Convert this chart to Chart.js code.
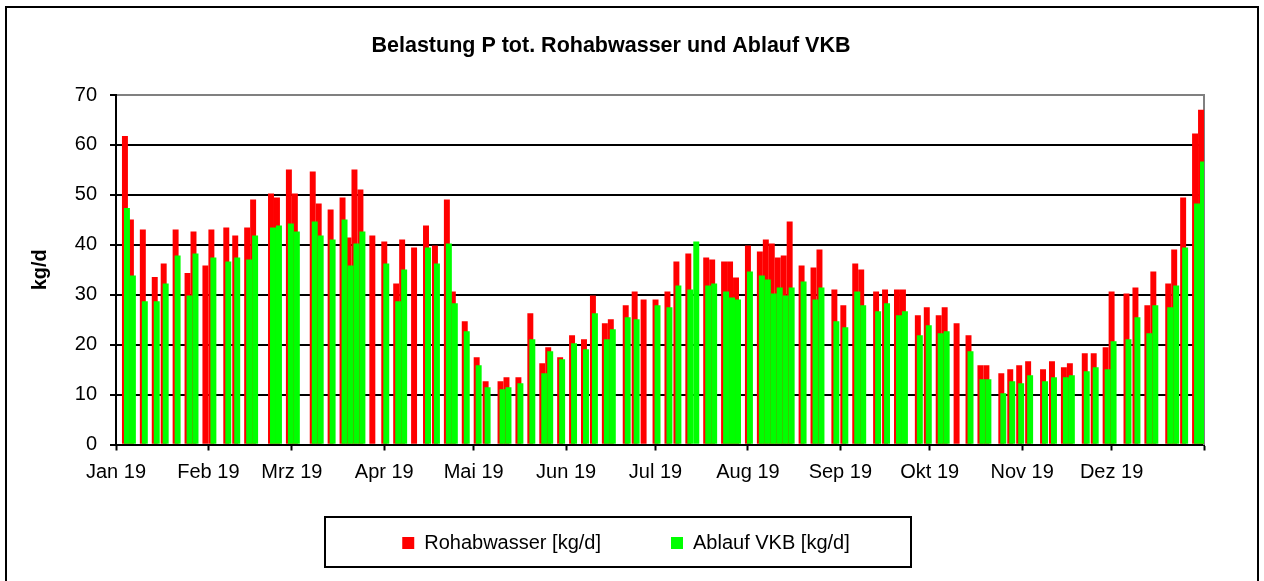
<!DOCTYPE html>
<html>
<head>
<meta charset="utf-8">
<script src="https://cdn.jsdelivr.net/npm/chart.js@4/dist/chart.umd.min.js"></script>
<style>
html,body{margin:0;padding:0;background:#fff;overflow:hidden}
#c{display:block;width:1264px;height:581px}
</style>
</head>
<body>
<canvas id="c" width="1264" height="581"></canvas>
<script>
// ---- data ----
const dates = [
 "2019-01-04","2019-01-06","2019-01-10","2019-01-14","2019-01-17","2019-01-21","2019-01-25","2019-01-27","2019-01-31",
 "2019-02-02","2019-02-07","2019-02-10","2019-02-14","2019-02-16","2019-02-22","2019-02-24","2019-02-28",
 "2019-03-02","2019-03-08","2019-03-10","2019-03-14","2019-03-18","2019-03-20","2019-03-22","2019-03-24","2019-03-28",
 "2019-04-01","2019-04-05","2019-04-07","2019-04-11","2019-04-15","2019-04-18","2019-04-22","2019-04-24","2019-04-28",
 "2019-05-02","2019-05-05","2019-05-10","2019-05-12","2019-05-16","2019-05-20","2019-05-24","2019-05-26","2019-05-30",
 "2019-06-03","2019-06-07","2019-06-10","2019-06-14","2019-06-16","2019-06-21","2019-06-24","2019-06-27",
 "2019-07-01","2019-07-05","2019-07-08","2019-07-12","2019-07-14","2019-07-18","2019-07-20","2019-07-24","2019-07-26","2019-07-28",
 "2019-08-01","2019-08-05","2019-08-07","2019-08-09","2019-08-11","2019-08-13","2019-08-15","2019-08-19","2019-08-23","2019-08-25","2019-08-30",
 "2019-09-02","2019-09-06","2019-09-08","2019-09-13","2019-09-16","2019-09-20","2019-09-22","2019-09-27","2019-09-30",
 "2019-10-04","2019-10-06","2019-10-10","2019-10-14","2019-10-18","2019-10-20","2019-10-25","2019-10-28","2019-10-31",
 "2019-11-03","2019-11-08","2019-11-11","2019-11-15","2019-11-17","2019-11-22","2019-11-25","2019-11-29",
 "2019-12-01","2019-12-06","2019-12-09","2019-12-13","2019-12-15","2019-12-20","2019-12-22","2019-12-25","2019-12-29","2019-12-31"
];
const rohabwasser = [
 61.7,45.0,43.0,33.5,36.2,43.0,34.3,42.6,35.8,
 43.0,43.4,41.8,43.4,49.0,50.2,49.4,55.0,
 50.2,54.6,48.2,47.0,49.4,41.4,55.0,51.0,41.8,
 40.6,32.2,41.0,39.4,43.8,39.8,49.0,30.6,24.6,
 17.4,12.6,12.6,13.4,13.4,26.2,16.2,19.4,17.4,
 21.8,21.0,29.8,24.2,25.0,27.8,30.6,29.0,
 29.0,30.6,36.6,38.2,null,37.4,37.0,36.6,36.6,33.4,
 39.8,38.6,41.0,40.2,37.4,37.8,44.6,35.8,35.4,39.0,31.0,
 27.8,36.2,35.0,30.6,31.0,31.0,31.0,25.8,27.4,
 25.8,27.4,24.2,21.8,15.8,15.8,14.2,15.0,15.8,
 16.6,15.0,16.6,15.4,16.2,18.2,18.2,19.4,
 30.6,30.2,31.4,27.8,34.6,32.2,39.0,49.4,62.2,67.0
];
const ablaufVKB = [
 47.3,33.8,28.6,28.6,32.2,37.8,29.8,38.2,null,
 37.4,36.6,37.4,37.0,41.8,43.4,43.8,44.2,
 42.6,44.6,41.8,41.0,45.0,35.8,40.2,42.6,null,
 36.2,28.6,35.0,null,39.4,36.2,40.2,28.2,22.6,
 15.8,11.4,11.0,11.4,12.2,21.0,14.2,18.6,17.0,
 20.2,19.0,26.2,21.0,23.0,25.4,25.0,null,
 27.8,27.4,31.8,31.0,40.6,31.8,32.2,30.6,29.4,29.0,
 34.6,33.8,33.0,30.2,31.4,29.8,31.4,32.6,29.0,31.4,24.6,
 23.4,30.6,27.8,26.6,28.2,25.8,26.6,21.8,23.8,
 22.2,22.6,null,18.6,13.0,13.0,10.2,12.6,12.2,
 13.8,12.6,13.4,13.4,13.8,14.6,15.4,15.0,
 20.6,21.0,25.4,22.2,27.8,27.4,31.8,39.4,48.2,56.6
];
const monthTickDates = ["2019-01-01","2019-02-01","2019-03-01","2019-04-01","2019-05-01","2019-06-01",
 "2019-07-01","2019-08-01","2019-09-01","2019-10-01","2019-11-01","2019-12-01","2020-01-01"];
const monthTickLabels = ["Jan 19","Feb 19","Mrz 19","Apr 19","Mai 19","Jun 19",
 "Jul 19","Aug 19","Sep 19","Okt 19","Nov 19","Dez 19",""];
const seriesLabels = ["Rohabwasser [kg/d]","Ablauf VKB [kg/d]"];
const chartTitle = "Belastung P tot. Rohabwasser und Ablauf VKB";
const yAxisTitle = "kg/d";

// ---- helpers ----
const DAY0 = Date.UTC(2019,0,1);
function dayIndex(s){ const [y,m,d]=s.split('-').map(Number); return (Date.UTC(y,m-1,d)-DAY0)/86400000; }
const tickDays = monthTickDates.map(dayIndex);
const xMax = tickDays[tickDays.length-1];
const GREEN_SHIFT = 0.67; // overlap offset of the front series (in days)

const FONT = "'Liberation Sans', Arial, sans-serif";
Chart.defaults.font.family = FONT;
Chart.defaults.font.size = 20;
Chart.defaults.color = '#000';

const framePlugin = {
  id: 'frame',
  beforeDraw(chart){
    const c = chart.ctx;
    c.save();
    c.fillStyle = '#fff';
    c.fillRect(0,0,chart.width,chart.height);
    c.strokeStyle = '#000';
    c.lineWidth = 2;
    c.strokeRect(6, 7, 1252, 600);
    c.restore();
  },
  afterLayout(chart){
    const lg = chart.legend;
    if (!lg) return;
    lg.left += 15; lg.right += 15;
    lg.top = 533 - lg.options.labels.padding;
  },
  afterDraw(chart){
    const c = chart.ctx;
    c.save();
    c.strokeStyle = '#000';
    c.lineWidth = 2;
    c.strokeRect(325, 517, 586, 50);
    c.restore();
  }
};

new Chart(document.getElementById('c'), {
  type: 'bar',
  data: {
    datasets: [
      { label: seriesLabels[0],
        data: dates.map((d,i)=>({x: dayIndex(d), y: rohabwasser[i]})),
        backgroundColor: '#FF0000', borderWidth: 0, xAxisID: 'x', order: 1 },
      { label: seriesLabels[1],
        data: dates.map((d,i)=>({x: dayIndex(d), y: ablaufVKB[i]})),
        backgroundColor: '#00FF00', borderWidth: 0, xAxisID: 'xg', order: 0 }
    ]
  },
  options: {
    responsive: false,
    animation: false,
    devicePixelRatio: 1,
    layout: { padding: { left: 8, right: 50, top: 0, bottom: 0 } },
    datasets: { bar: { grouped: false, barThickness: 5.3 } },
    scales: {
      x: {
        type: 'linear', position: 'bottom', min: 0, max: xMax, offset: false,
        afterBuildTicks: s => { s.ticks = tickDays.map(v => ({ value: v })); },
        ticks: { autoSkip: false, maxRotation: 0, minRotation: 0, padding: 10, color: '#000',
                 font: { size: 20 }, callback: (v, i) => monthTickLabels[i] },
        grid: { offset: false, drawOnChartArea: false, drawTicks: true, tickLength: 6, tickWidth: 2, tickColor: '#000' },
        border: { display: true, color: '#000', width: 2 }
      },
      xg: { type: 'linear', display: false, offset: false, grid: { offset: false },
            min: -GREEN_SHIFT, max: xMax - GREEN_SHIFT },
      y: {
        min: 0, max: 70,
        ticks: { stepSize: 10, padding: 13, color: '#000', font: { size: 20 } },
        grid: { color: c => (c.tick && c.tick.value === 70) ? '#808080' : '#000',
                lineWidth: 2, tickLength: 6, tickWidth: 2, tickColor: '#000' },
        border: { display: true, color: '#000', width: 2 },
        title: { display: true, text: yAxisTitle, color: '#000',
                 font: { size: 20, weight: 'bold' }, padding: { top: 20.4, bottom: 0 } },
        afterFit: s => { s.width = 108; }
      },
      y2: {
        position: 'right', min: 0, max: 70,
        ticks: { display: false },
        grid: { display: false },
        border: { display: true, color: '#808080', width: 2 },
        afterFit: s => { s.width = 10; }
      }
    },
    plugins: {
      title: { display: true, text: chartTitle, color: '#000',
               font: { size: 21.5, weight: 'bold' }, padding: { top: 33.1, bottom: 36.1 } },
      legend: {
        position: 'bottom', maxHeight: 86.5,
        labels: { boxWidth: 12, boxHeight: 12, padding: 70, color: '#000', font: { size: 20 },
                  sort: (a, b) => a.datasetIndex - b.datasetIndex }
      },
      tooltip: { enabled: false }
    }
  },
  plugins: [framePlugin]
});
</script>
</body>
</html>
